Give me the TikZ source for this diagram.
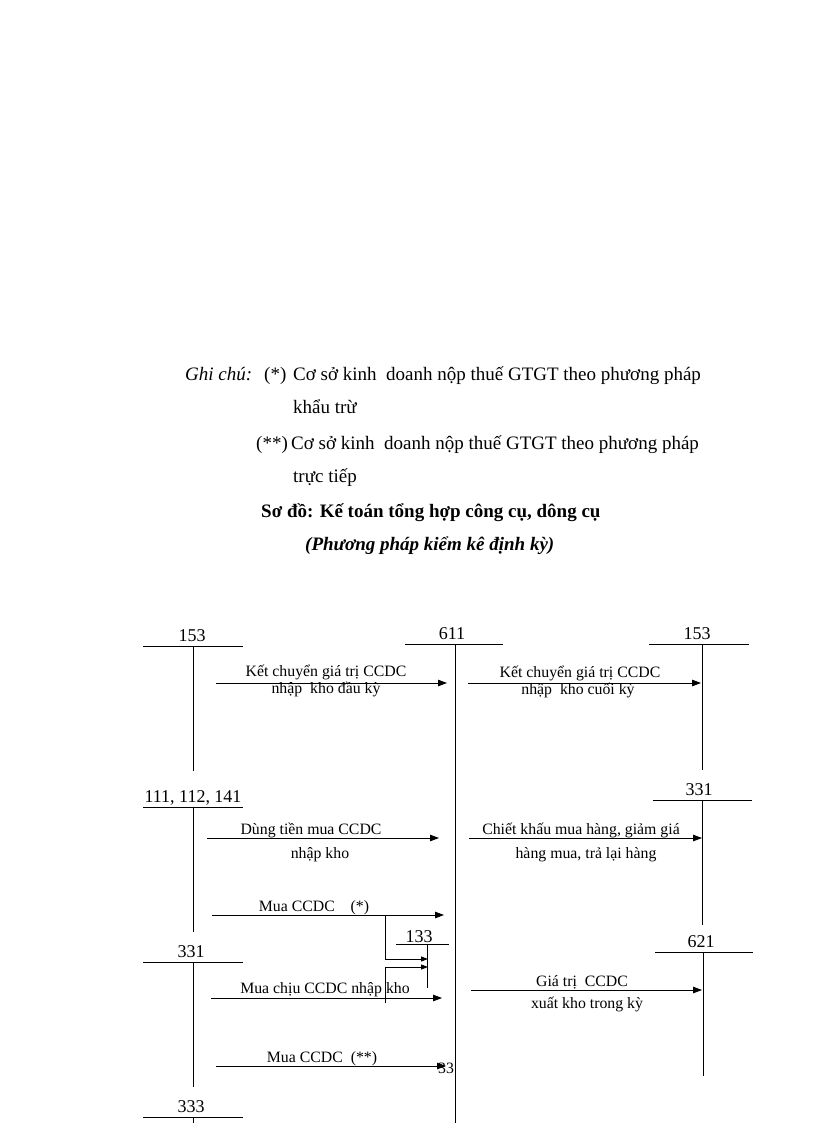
\documentclass[tikz,border=0pt]{standalone}
\usepackage{fontspec}
\setmainfont{Liberation Serif}
\usetikzlibrary{arrows.meta}
\begin{document}
\begin{tikzpicture}[x=1pt,y=-1pt,
  ln/.style={line width=0.8pt},
  arr/.style={line width=0.8pt,-{Triangle[length=9pt,width=6.5pt]}},
  acct/.style={font=\fontsize{18}{20}\selectfont, inner sep=0pt, anchor=base},
  lbl/.style={font=\fontsize{15.8}{18}\selectfont, inner sep=0pt, anchor=base},
  hdr/.style={font=\fontsize{19}{22}\selectfont, inner sep=0pt, anchor=base west}]
\useasboundingbox (0,0) rectangle (816,1123);
% header
\node[hdr] (gc) at (185,380) {\itshape Ghi chú:};
\node[hdr] (s1) at (264,380) {(*)};
\node[hdr] (t1) at (293,380) {Cơ sở kinh\ \ doanh nộp thuế GTGT theo phương pháp};
\node[hdr] (t2) at (293,413) {khẩu trừ};
\node[hdr] (s2) at (256,449) {(**)};
\node[hdr] (t3) at (291,449) {Cơ sở kinh\ \ doanh nộp thuế GTGT theo phương pháp};
\node[hdr] (t4) at (293,482) {trực tiếp};
\node[hdr] (t5) at (261,517) {\bfseries Sơ đồ: Kế toán tổng hợp công cụ, dông cụ};
\node[hdr] (t6) at (305,550) {\bfseries\itshape (Phương pháp kiểm kê định kỳ)};
% accounts
\node[acct] (a153l) at (192,641) {153};
\node[acct] (a611) at (452,639) {611};
\node[acct] (a153r) at (697,639) {153};
\node[acct] (a111) at (193,802) {111, 112, 141};
\node[acct] (a331r) at (699,795) {331};
\node[acct] (a331l) at (191,957) {331};
\node[acct] (a133) at (419,942) {133};
\node[acct] (a621) at (701,947) {621};
\node[acct] (a333) at (191,1112) {333};
% T lines
\draw[ln] (143,646) -- (243,646); \draw[ln] (193,646) -- (193,771);
\draw[ln] (405,644) -- (503,644); \draw[ln] (455,644) -- (455,1123);
\draw[ln] (649,644) -- (749,644); \draw[ln] (702,644) -- (702,770);
\draw[ln] (143,807) -- (243,807); \draw[ln] (193,807) -- (193,932);
\draw[ln] (653,800) -- (752,800); \draw[ln] (702,800) -- (702,925);
\draw[ln] (143,962) -- (243,962); \draw[ln] (193,962) -- (193,1087);
\draw[ln] (396,944) -- (449,944); \draw[ln] (427,944) -- (427,988);
\draw[ln] (655,952) -- (753,952); \draw[ln] (703,952) -- (703,1076);
\draw[ln] (143,1117) -- (243,1117); \draw[ln] (193,1117) -- (193,1123);
% arrow coordinates
\coordinate (p1s) at (216,683); \coordinate (p1e) at (447,683);
\coordinate (p2s) at (468,683); \coordinate (p2e) at (701,683);
\coordinate (p3s) at (207,838); \coordinate (p3e) at (439,838);
\coordinate (p4s) at (212,915); \coordinate (p4e) at (444,915);
\coordinate (p7s) at (469,838); \coordinate (p7e) at (702,838);
\coordinate (p5s) at (211,998); \coordinate (p5e) at (442,998);
\coordinate (p6s) at (216,1066); \coordinate (p6e) at (446,1066);
\coordinate (p8s) at (471,990); \coordinate (p8e) at (702,990);
\coordinate (b1) at (385,915); \coordinate (b1d) at (385,959); \coordinate (b1e) at (428,959);
\coordinate (b2) at (385,1003); \coordinate (b2u) at (385,967); \coordinate (b2e) at (428,967);
\draw[arr] (p1s) -- (p1e);
\draw[arr] (p2s) -- (p2e);
\draw[arr] (p3s) -- (p3e);
\draw[arr] (p4s) -- (p4e);
\draw[arr] (p7s) -- (p7e);
\draw[arr] (p5s) -- (p5e);
\draw[arr] (p6s) -- (p6e);
\draw[arr] (p8s) -- (p8e);
\draw[ln,-{Triangle[length=7pt,width=5pt]}] (b1) -- (b1d) -- (b1e);
\draw[ln,-{Triangle[length=7pt,width=5pt]}] (b2) -- (b2u) -- (b2e);
% labels
\node[lbl] (l1a) at (326,676) {Kết chuyển giá trị CCDC};
\node[lbl] (l1b) at (326,693) {nhập\ \ kho đầu kỳ};
\node[lbl] (l2a) at (580,677) {Kết chuyển giá trị CCDC};
\node[lbl] (l2b) at (578,694) {nhập\ \ kho cuối kỳ};
\node[lbl] (l3a) at (311,834) {Dùng tiền mua CCDC};
\node[lbl] (l3b) at (320,858) {nhập kho};
\node[lbl] (l4) at (314,911) {Mua CCDC\ \ \ \ (*)};
\node[lbl] (l7a) at (581,834) {Chiết khấu mua hàng, giảm giá};
\node[lbl] (l7b) at (586,858) {hàng mua, trả lại hàng};
\node[lbl] (l5) at (325,993) {Mua chịu CCDC nhập kho};
\node[lbl] (l6) at (322,1062) {Mua CCDC\ \ (**)};
\node[lbl,anchor=base west] (l33) at (438,1073) {33};
\node[lbl] (l8a) at (582,986) {Giá trị\ \ CCDC};
\node[lbl] (l8b) at (587,1008) {xuất kho trong kỳ};
\end{tikzpicture}
\end{document}
